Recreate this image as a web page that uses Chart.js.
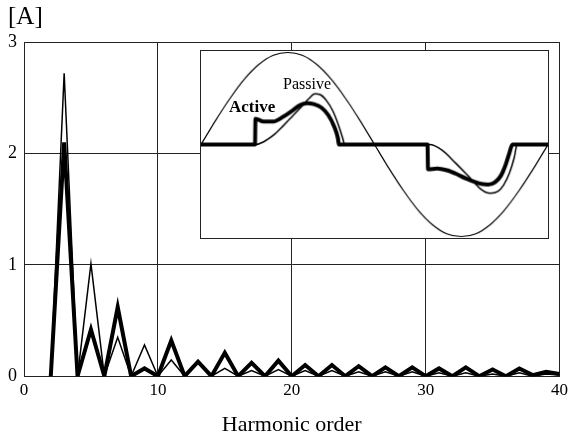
<!DOCTYPE html>
<html>
<head>
<meta charset="utf-8">
<script src="https://cdn.jsdelivr.net/npm/chart.js@4.4.1/dist/chart.umd.min.js"></script>
<style>
  body { margin: 0; background: #fff; }
  #wrap { position: relative; width: 572px; height: 438px; }
  #main { position: absolute; left: 0; top: 0; }
  #inset { position: absolute; left: 200px; top: 50px; background: #fff; border: 1px solid #222; }
  .lbl { position: absolute; font-family: "Liberation Serif", serif; font-size: 16px; line-height: 1; color: #000; }
</style>
</head>
<body>
<div id="wrap">
  <canvas id="main" width="572" height="438"></canvas>
  <canvas id="inset" width="349" height="189"></canvas>
  <div class="lbl" style="left:229px; top:98px; font-weight:bold; font-size:17px;">Active</div>
  <div class="lbl" style="left:283px; top:76px;">Passive</div>
</div>
<script>
// harmonic spectrum
const harmonics = [2,3,4,5,6,7,8,9,10,11,12,13,14,15,16,17,18,19,20,21,22,23,24,25,26,27,28,29,30,31,32,33,34,35,36,37,38,39,40];
const activeAmps = [0,2.1,0,0.42,0,0.62,0,0.07,0,0.32,0,0.13,0,0.21,0,0.12,0,0.14,0,0.10,0,0.10,0,0.09,0,0.08,0,0.08,0,0.07,0,0.08,0,0.06,0,0.07,0.01,0.04,0.02];
const passiveAmps = [0,2.72,0,1.01,0,0.35,0,0.28,0,0.145,0,0.12,0,0.07,0,0.05,0,0.06,0,0.05,0,0.05,0,0.04,0,0.04,0,0.04,0,0.03,0,0.03,0,0.02,0,0.03,0,0.02,0.01];
const xTicks = [0, 10, 20, 30, 40];
const yTicks = [0, 1, 2, 3];

// inset waveforms, phase in degrees
const sinePhase = [0,15,30,45,60,75,90,105,120,135,150,165,180,195,210,225,240,255,270,285,300,315,330,345,360];
const sineVals = [0,0.26,0.5,0.71,0.87,0.97,1,0.97,0.87,0.71,0.5,0.26,0,-0.26,-0.5,-0.71,-0.87,-0.97,-1,-0.97,-0.87,-0.71,-0.5,-0.26,0];
const activePhase = [0,56,56.5,65,75,85,95,103,110,117,125,132,138,142,143,235,235.5,245,255,265,275,285,292,298,305,311,316,320,323,360];
const activeWave = [0,0,0.28,0.25,0.25,0.30,0.37,0.43,0.45,0.44,0.40,0.32,0.20,0.07,0,0,-0.27,-0.26,-0.28,-0.32,-0.37,-0.41,-0.43,-0.435,-0.41,-0.34,-0.22,-0.09,0,0];
const passivePhase = [0,57,65,75,85,95,105,112,118,124,130,137,143,147,149,237,250,264,278,291,300,308,314,320,325,328,360];
const passiveWave = [0,0,0.03,0.10,0.20,0.31,0.42,0.50,0.55,0.54,0.48,0.36,0.20,0.07,0,0,-0.06,-0.20,-0.35,-0.49,-0.53,-0.51,-0.44,-0.31,-0.14,0,0];

const serif = 'Liberation Serif';

function pts(xs, ys) {
    return xs.map((x, i) => ({ x: x, y: ys[i] }));
}

// main spectrum chart
new Chart(document.getElementById('main'), {
    type: 'line',
    data: {
        datasets: [
            { data: pts(harmonics, activeAmps), borderColor: '#000', borderWidth: 4, pointRadius: 0, tension: 0 },
            { data: pts(harmonics, passiveAmps), borderColor: '#000', borderWidth: 1.5, pointRadius: 0, tension: 0 }
        ]
    },
    options: {
        responsive: false,
        animation: false,
        layout: { padding: { left: 8, right: 12, top: 0, bottom: 0 } },
        plugins: {
            legend: { display: false },
            tooltip: { enabled: false },
            title: {
                display: true, text: '[A]', align: 'start', color: '#000',
                font: { family: serif, size: 25, weight: 'normal' },
                padding: { top: 2, bottom: 10 }
            }
        },
        scales: {
            x: {
                type: 'linear', min: 0, max: 40,
                afterBuildTicks: s => { s.ticks = xTicks.map(v => ({ value: v })); },
                grid: { color: '#222', lineWidth: 1, drawTicks: false },
                border: { color: '#222' },
                ticks: { color: '#000', padding: 4, maxRotation: 0, font: { family: serif, size: 17 } },
                title: { display: true, text: 'Harmonic order', color: '#000', padding: { top: 7, bottom: 0 }, font: { family: serif, size: 22 } }
            },
            y: {
                min: 0, max: 3,
                afterBuildTicks: s => { s.ticks = yTicks.map(v => ({ value: v })); },
                afterFit: s => { s.width = 16; },
                grid: { color: '#222', lineWidth: 1, drawTicks: false },
                border: { color: '#222' },
                ticks: { color: '#000', padding: 7, font: { family: serif, size: 18 } }
            }
        }
    }
});

// inset waveform chart
new Chart(document.getElementById('inset'), {
    type: 'line',
    data: {
        datasets: [
            { data: pts(activePhase, activeWave), borderColor: '#000', borderWidth: 4, pointRadius: 0, cubicInterpolationMode: 'monotone' },
            { data: pts(passivePhase, passiveWave), borderColor: '#000', borderWidth: 1.5, pointRadius: 0, cubicInterpolationMode: 'monotone' },
            { data: pts(sinePhase, sineVals), borderColor: '#000', borderWidth: 1.2, pointRadius: 0, cubicInterpolationMode: 'monotone' }
        ]
    },
    options: {
        responsive: false,
        animation: false,
        layout: { padding: 0 },
        plugins: { legend: { display: false }, tooltip: { enabled: false } },
        scales: {
            x: { type: 'linear', min: 0, max: 360, display: false },
            y: { min: -1.016, max: 1.016, display: false }
        }
    }
});
</script>
</body>
</html>
